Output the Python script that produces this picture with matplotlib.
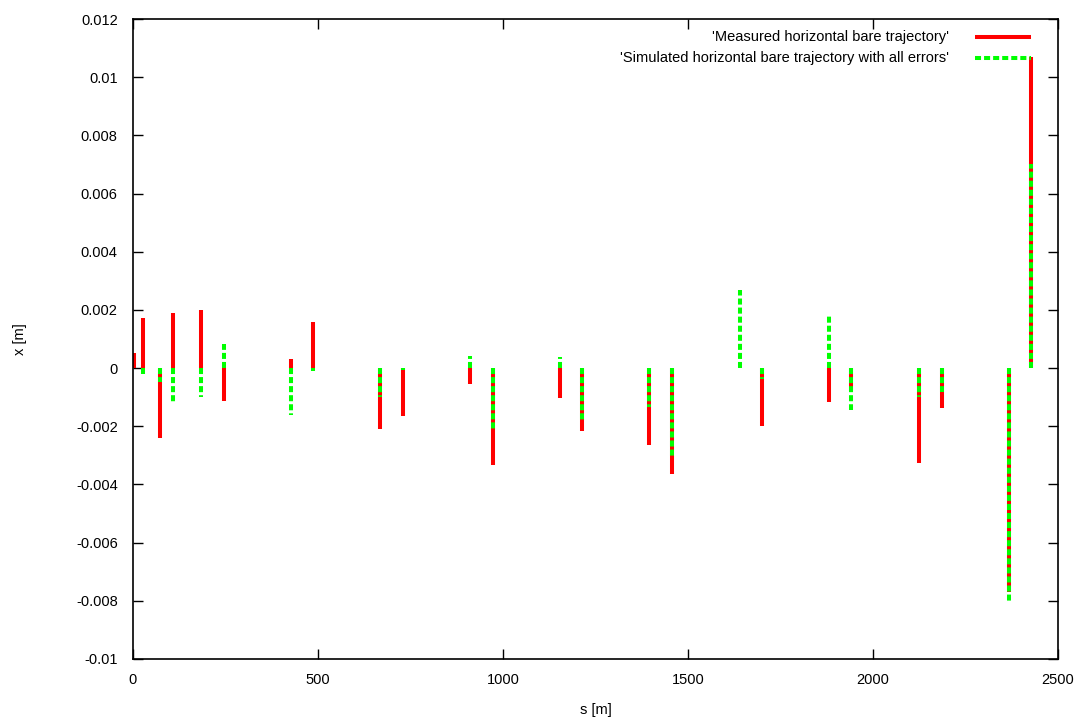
import matplotlib
matplotlib.use("Agg")
import matplotlib.pyplot as plt
from matplotlib.lines import Line2D

plt.rcParams['font.family'] = ['Liberation Sans', 'DejaVu Sans']

s_pos = [2, 26, 73, 108, 185, 245, 426, 486, 668, 729, 911, 972, 1154, 1214,
         1396, 1457, 1640, 1700, 1882, 1942, 2124, 2186, 2369, 2427]
measured = [0.00053, 0.00171, -0.00242, 0.00189, 0.00199, -0.00114, 0.00030, 0.00158,
            -0.00209, -0.00163, -0.00054, -0.00332, -0.00102, -0.00215, -0.00263, -0.00364,
            0.0, -0.00199, -0.00117, -0.00079, -0.00328, -0.00137, -0.0077, 0.0107]
simulated = [0.0, -0.00020, -0.00048, -0.00117, -0.00100, 0.00084, -0.00160, -0.00010,
             -0.00100, -0.00008, 0.00040, -0.00209, 0.00037, -0.00177, -0.00134, -0.00303,
             0.00270, -0.00039, 0.00178, -0.00145, -0.00100, -0.00083, -0.0080, 0.00703]

label_meas = "'Measured horizontal bare trajectory'"
label_sim = "'Simulated horizontal bare trajectory with all errors'"

xticks = [0, 500, 1000, 1500, 2000, 2500]
yticks = [-0.01, -0.008, -0.006, -0.004, -0.002, 0, 0.002, 0.004, 0.006, 0.008, 0.01, 0.012]
ytick_labels = ['-0.01', '-0.008', '-0.006', '-0.004', '-0.002', '0', '0.002', '0.004',
                '0.006', '0.008', '0.01', '0.012']

red = '#ff0000'
green = '#00ff00'
lw = 2.9
fs = 10.5

fig = plt.figure(figsize=(10.9, 7.28), dpi=100)
ax = fig.add_axes([0.122, 0.0948, 0.8486, 0.8791])

red_lines = ax.vlines(s_pos, 0, measured, colors=red, linewidth=lw)
red_lines.set_capstyle('butt')
green_lines = ax.vlines(s_pos, 0, simulated, colors=green, linewidth=lw,
                        linestyles=(0, (1.5, 0.75)))
green_lines.set_capstyle('butt')

ax.set_xlim(0, 2500)
ax.set_ylim(-0.01, 0.012)
ax.set_xticks(xticks)
ax.set_xticklabels([str(t) for t in xticks])
ax.set_yticks(yticks)
ax.set_yticklabels(ytick_labels)
ax.tick_params(direction='in', length=7, width=1, top=True, right=True,
               labelsize=fs)
ax.tick_params(axis='x', pad=10)
ax.tick_params(axis='y', pad=11)
for sp in ax.spines.values():
    sp.set_linewidth(1.2)

ax.set_xlabel('s [m]', fontsize=fs)
ax.set_ylabel('x [m]', fontsize=fs)
ax.xaxis.set_label_coords(0.5, -0.068)
ax.yaxis.set_label_coords(-0.115, 0.5)

# legend (gnuplot style: right-aligned text, sample to the right)
ax.text(0.882, 0.972, label_meas, transform=ax.transAxes, ha='right', va='center',
        fontsize=fs)
ax.text(0.882, 0.939, label_sim, transform=ax.transAxes, ha='right', va='center',
        fontsize=fs)
l1 = Line2D([0.910, 0.971], [0.972, 0.972], transform=ax.transAxes, color=red,
            linewidth=lw, solid_capstyle='butt')
l2 = Line2D([0.910, 0.971], [0.939, 0.939], transform=ax.transAxes, color=green,
            linewidth=lw, linestyle=(0, (1.5, 0.75)), dash_capstyle='butt')
ax.add_line(l1)
ax.add_line(l2)

fig.savefig('out.png', dpi=100)
